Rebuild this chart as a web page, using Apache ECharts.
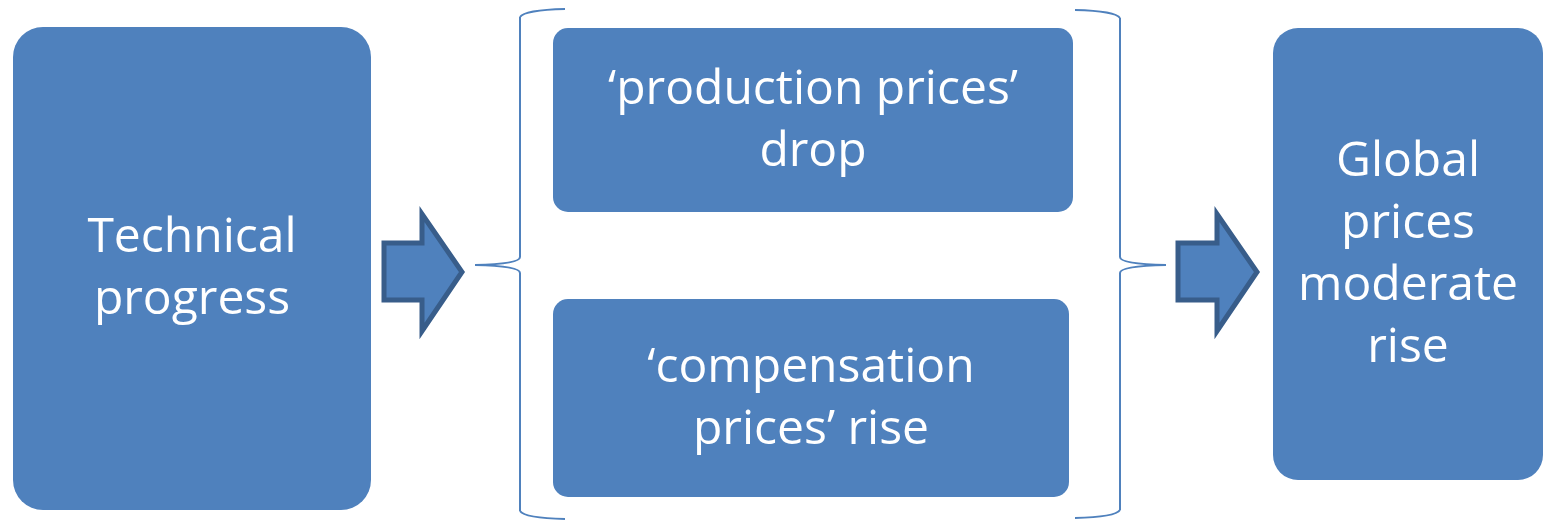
<!DOCTYPE html>
<html><head><meta charset="utf-8">
<script src="https://cdn.jsdelivr.net/npm/echarts@6/dist/echarts.min.js"></script>
<style>html,body{margin:0;padding:0;background:#fff}#c{width:1544px;height:520px}</style>
</head><body><div id="c"></div>
<script>
// Content
const boxLabels = [
  "Technical\nprogress",
  "\u2018production prices\u2019\ndrop",
  "\u2018compensation\nprices\u2019 rise",
  "Global\nprices\nmoderate\nrise"
];
// Layout (positions/sizes)
const boxRects = [
  {x: 13, y: 27, w: 358, h: 483, r: 30},
  {x: 553, y: 28, w: 520, h: 184, r: 15},
  {x: 553, y: 299, w: 516, h: 198, r: 15},
  {x: 1273, y: 28, w: 270, h: 452, r: 25}
];
const arrows = [
  {x0: 384, y0: 243, y1: 300, hx: 422, ht: 214, hb: 331, tx: 462, ty: 272},
  {x0: 1178, y0: 243, y1: 300, hx: 1217, ht: 214, hb: 331, tx: 1257, ty: 272}
];
// braces: spine x, top y, bottom y, tip x, tip y, end x, top-end y, bottom-end y
const braces = [
  {sx: 520, top: 17, bot: 511, tipX: 475, tipY: 265, ex: 565, ety: 9, eby: 519},
  {sx: 1120, top: 18, bot: 510, tipX: 1166, tipY: 265, ex: 1075, ety: 10, eby: 518}
];
const fill = '#4F81BD', dark = '#385D8A';
const font = '"Open Sans", Lato, sans-serif';

const elements = [];
boxRects.forEach((b, i) => {
  elements.push({type: 'rect', shape: {x: b.x, y: b.y, width: b.w, height: b.h, r: b.r},
    style: {fill: fill}});
  elements.push({type: 'text', x: b.x + b.w / 2, y: b.y + b.h / 2 + 1,
    style: {text: boxLabels[i], fill: '#fff', font: '48px ' + font, align: 'center',
      verticalAlign: 'middle', lineHeight: 62}});
});
arrows.forEach(a => {
  elements.push({type: 'polygon', shape: {points: [
    [a.x0, a.y0], [a.hx, a.y0], [a.hx, a.ht], [a.tx, a.ty], [a.hx, a.hb], [a.hx, a.y1], [a.x0, a.y1]
  ]}, style: {fill: fill, stroke: dark, lineWidth: 5, lineJoin: 'miter'}});
});
const bs = {fill: null, stroke: fill, lineWidth: 2};
braces.forEach(b => {
  const m1 = b.tipY - 8, m2 = b.tipY + 8;
  elements.push({type: 'bezierCurve', shape: {x1: b.ex, y1: b.ety, cpx1: b.sx + (b.ex - b.sx) * 0.1, cpy1: b.ety + 1, x2: b.sx, y2: b.top}, style: bs});
  elements.push({type: 'line', shape: {x1: b.sx, y1: b.top, x2: b.sx, y2: m1}, style: bs});
  elements.push({type: 'bezierCurve', shape: {x1: b.sx, y1: m1, cpx1: b.sx, cpy1: b.tipY - 1, x2: b.tipX, y2: b.tipY}, style: bs});
  elements.push({type: 'bezierCurve', shape: {x1: b.sx, y1: m2, cpx1: b.sx, cpy1: b.tipY + 1, x2: b.tipX, y2: b.tipY}, style: bs});
  elements.push({type: 'line', shape: {x1: b.sx, y1: m2, x2: b.sx, y2: b.bot}, style: bs});
  elements.push({type: 'bezierCurve', shape: {x1: b.ex, y1: b.eby, cpx1: b.sx + (b.ex - b.sx) * 0.1, cpy1: b.eby - 1, x2: b.sx, y2: b.bot}, style: bs});
});

const chart = echarts.init(document.getElementById('c'), null, {renderer: 'canvas'});
chart.setOption({animation: false, graphic: {elements: elements}});
</script></body></html>
